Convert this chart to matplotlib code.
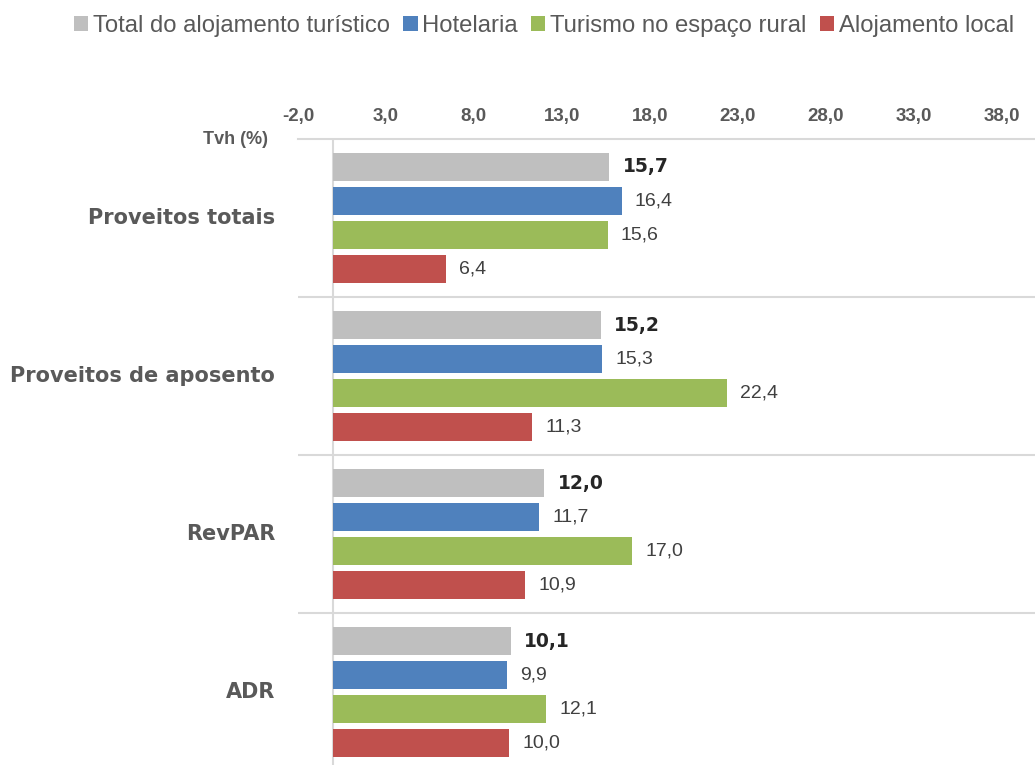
import numpy as np
import matplotlib
matplotlib.use("Agg")
import matplotlib.pyplot as plt
from matplotlib.transforms import blended_transform_factory
from matplotlib.patches import Patch

# Dados
categorias = ["Proveitos totais", "Proveitos de aposento", "RevPAR", "ADR"]
series = ["Total do alojamento turístico", "Hotelaria", "Turismo no espaço rural", "Alojamento local"]
total = [15.7, 15.2, 12.0, 10.1]
hotelaria = [16.4, 15.3, 11.7, 9.9]
ter = [15.6, 22.4, 17.0, 12.1]
al = [6.4, 11.3, 10.9, 10.0]
ticks = [-2, 3, 8, 13, 18, 23, 28, 33, 38]

cores = ["#BFBFBF", "#4F81BD", "#9BBB59", "#C0504D"]
cinza = "#595959"
linha = "#D9D9D9"

plt.rcParams['font.family'] = ['Liberation Sans', 'DejaVu Sans']

fig = plt.figure(figsize=(10.35, 7.65), dpi=100)
ax = fig.add_axes([298 / 1035, 0.0, 1 - 298 / 1035, 1 - 139 / 765])

y = np.arange(len(categorias))
offsets = [-0.323, -0.108, 0.108, 0.323]
altura = 0.177
valores = [total, hotelaria, ter, al]

for i, (vals, cor) in enumerate(zip(valores, cores)):
    ax.barh(y + offsets[i], vals, height=altura, color=cor, zorder=3)
    for yy, v in zip(y + offsets[i], vals):
        txt = f"{v:.1f}".replace(".", ",")
        if i == 0:
            ax.text(v + 0.75, yy, txt, va="center", ha="left", fontsize=13.5,
                    fontweight="heavy", family="DejaVu Sans", color="#262626")
        else:
            ax.text(v + 0.75, yy, txt, va="center", ha="left", fontsize=14,
                    color="#404040")

ax.set_xlim(-2, 39.9)
ax.set_ylim(3.46, -0.5)
ax.set_yticks([])
ax.xaxis.tick_top()
ax.set_xticks(ticks)
ax.set_xticklabels([f"{t:.1f}".replace(".", ",") for t in ticks])
ax.tick_params(axis="x", length=0, pad=10, labelsize=13.5, labelcolor=cinza)
for lbl in ax.get_xticklabels():
    lbl.set_fontweight("bold")

for s in ["left", "right", "bottom"]:
    ax.spines[s].set_visible(False)
ax.spines["top"].set_color(linha)
ax.spines["top"].set_linewidth(1.5)
ax.axvline(0, color=linha, lw=1.5, zorder=2)
for b in [0.5, 1.5, 2.5]:
    ax.axhline(b, color=linha, lw=1.5, zorder=2)

trans = blended_transform_factory(fig.transFigure, ax.transData)
for yy, cat in zip(y, categorias):
    ax.text(275 / 1035, yy, cat, transform=trans, ha="right", va="center",
            fontsize=15, fontweight="heavy", family="DejaVu Sans", color=cinza)

fig.text(268 / 1035, 1 - 140 / 765, "Tvh (%)", ha="right", va="center",
         fontsize=13, fontweight="bold", color=cinza)

handles = [Patch(facecolor=c, edgecolor="none") for c in cores]
fig.legend(handles, series, loc="center", bbox_to_anchor=(544 / 1035, 1 - 26 / 765),
           ncol=4, frameon=False, fontsize=17.2, labelcolor=cinza,
           handlelength=0.6, handleheight=0.6, handletextpad=0.2, columnspacing=0.55)

fig.savefig("out.png", dpi=100)
